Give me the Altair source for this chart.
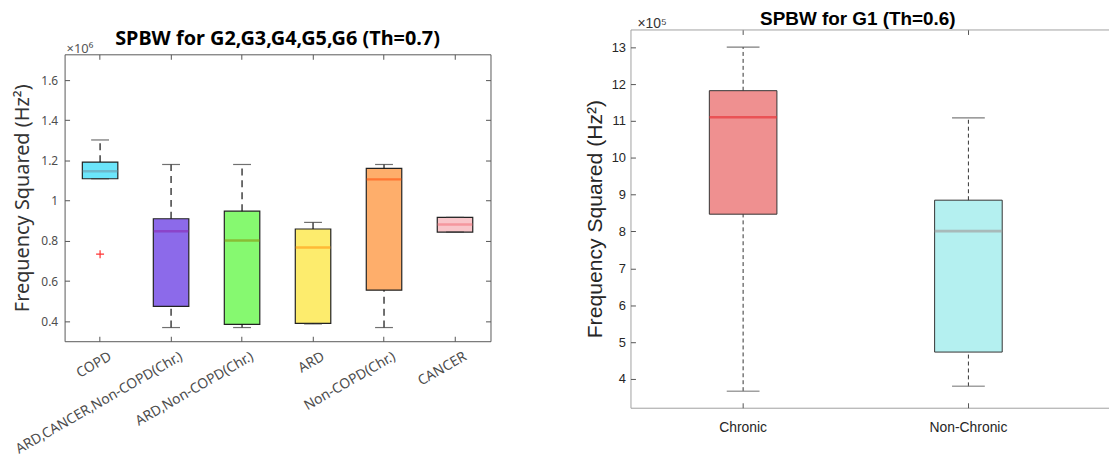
import altair as alt
import pandas as pd

# ---------------- left panel data (values in units of 1e6 Hz^2) ----------------
left_groups = ["COPD", "ARD,CANCER,Non-COPD(Chr.)", "ARD,Non-COPD(Chr.)", "ARD", "Non-COPD(Chr.)", "CANCER"]
left_lower_whisker = [1.109, 0.369, 0.369, 0.387, 0.369, 0.844]
left_q1 = [1.109, 0.474, 0.385, 0.390, 0.555, 0.844]
left_median = [1.146, 0.848, 0.802, 0.767, 1.106, 0.881]
left_q3 = [1.192, 0.910, 0.948, 0.859, 1.161, 0.917]
left_upper_whisker = [1.302, 1.180, 1.180, 0.892, 1.180, 0.917]
left_outlier_groups = ["COPD"]
left_outlier_values = [0.734]
left_fill_colors = ["#6be5fb", "#8c6aea", "#86f970", "#fdec6d", "#feae6b", "#f9c6ca"]
left_median_colors = ["#6ea5b8", "#8a35bb", "#8aa41d", "#ffa41f", "#ff5e1a", "#f4838b"]
left_y_ticks = [0.4, 0.6, 0.8, 1.0, 1.2, 1.4, 1.6]
left_y_domain = [0.301, 1.728]
left_title = ["SPBW for G2,G3,G4,G5,G6 (Th=0.7)"]
left_exponent = ["×10⁶"]

# ---------------- right panel data (values in units of 1e5 Hz^2) ----------------
right_groups = ["Chronic", "Non-Chronic"]
right_lower_whisker = [3.67, 3.80]
right_q1 = [8.47, 4.73]
right_median = [11.10, 8.01]
right_q3 = [11.82, 8.85]
right_upper_whisker = [13.00, 11.08]
right_fill_colors = ["#ef9090", "#b4f0f0"]
right_median_colors = ["#e8383c", "#a3a3a3"]
right_y_ticks = [4, 5, 6, 7, 8, 9, 10, 11, 12, 13]
right_y_domain = [3.22, 13.48]
right_title = ["SPBW for G1 (Th=0.6)"]
right_exponent = ["×10⁵"]

y_title = "Frequency Squared (Hz²)"

LW, LTOP, LH = 429, 25, 289          # left plot: width, top inset, plot height
LHT = LTOP + LH                      # total height of the left view
RW, RH = 482, 381


def tick_axis(orient, offset, color, values=None, domain=False, domain_color=None):
    kw = dict(orient=orient, offset=offset, labels=False, domain=domain, ticks=True,
              tickSize=5, tickColor=color, tickWidth=1, title=None, grid=False)
    if values is not None:
        kw["values"] = values
    if domain:
        kw["domainColor"] = domain_color
        kw["domainWidth"] = 1
    return alt.Axis(**kw)


# ---------------- left panel ----------------
ldf = pd.DataFrame({
    "group": left_groups, "lo": left_lower_whisker, "q1": left_q1, "median": left_median,
    "q3": left_q3, "hi": left_upper_whisker, "fill": left_fill_colors, "mcolor": left_median_colors,
})
lout = pd.DataFrame({"group": left_outlier_groups, "value": left_outlier_values})
lexp = pd.DataFrame({"label": left_exponent})
ltitle = pd.DataFrame({"label": left_title})

lxscale = alt.Scale(domain=left_groups, paddingInner=0, paddingOuter=0)
lyscale = alt.Scale(domain=left_y_domain, nice=False, zero=False, range=[LHT, LTOP])
LF = "Noto Sans"
ltick = "#555555"
lframe = "#5a5a5a"

l_box = alt.Chart(ldf).mark_bar(width={"band": 0.5}, stroke="#222222", strokeWidth=1.2).encode(
    x=alt.X("group:N", scale=lxscale, sort=left_groups, axis=alt.Axis(
        orient="bottom", labelAngle=330, labelAlign="right", labelBaseline="top",
        labelPadding=8, labelOffset=7, labelFont=LF, labelFontSize=14, labelColor="#4d4d4d",
        labelLimit=0, labelOverlap=False, ticks=False, tickSize=0, domain=True,
        domainColor=lframe, domainWidth=1, title=None, grid=False)),
    y=alt.Y("q1:Q", scale=lyscale, axis=alt.Axis(
        orient="left", values=left_y_ticks, format=".1~f", labelFont=LF, labelFontSize=12,
        labelColor="#4d4d4d", labelPadding=7, ticks=False, tickSize=0, domain=True,
        domainColor=lframe, domainWidth=1, grid=False,
        labelFlush=False, labelOverlap=False,
        title=y_title, titleFont=LF, titleFontSize=20, titleFontWeight="normal", titleColor="#333333",
        titleX=-32, titleY=LTOP + LH / 2, titleAngle=270, titleAlign="center", titleBaseline="bottom")),
    y2="q3:Q",
    fill=alt.Fill("fill:N", scale=None),
)
l_med = alt.Chart(ldf).mark_tick(size=35, thickness=2.5).encode(
    x=alt.X("group:N", sort=left_groups, axis=tick_axis("top", -LHT, ltick)),
    y=alt.Y("median:Q", axis=tick_axis("right", -LW, ltick, left_y_ticks)),
    color=alt.Color("mcolor:N", scale=None),
)
l_wh_hi = alt.Chart(ldf).mark_rule(color="#111111", strokeWidth=1.2, strokeDash=[7, 5]).encode(
    x=alt.X("group:N", sort=left_groups,
            axis=tick_axis("bottom", -LH, ltick, domain=True, domain_color=lframe)),
    y=alt.Y("q3:Q", axis=tick_axis("left", -LW, ltick, left_y_ticks, domain=True, domain_color=lframe)),
    y2="hi:Q",
)
l_wh_lo = alt.Chart(ldf).mark_rule(color="#111111", strokeWidth=1.2, strokeDash=[7, 5]).encode(
    x=alt.X("group:N", sort=left_groups, axis=None),
    y=alt.Y("lo:Q", axis=None),
    y2="q1:Q",
)
l_cap_hi = alt.Chart(ldf).mark_tick(size=18, thickness=1.2, color="#333333").encode(
    x=alt.X("group:N", sort=left_groups, axis=None), y=alt.Y("hi:Q", axis=None))
l_cap_lo = alt.Chart(ldf).mark_tick(size=18, thickness=1.2, color="#333333").encode(
    x=alt.X("group:N", sort=left_groups, axis=None), y=alt.Y("lo:Q", axis=None))
l_out = alt.Chart(lout).mark_point(shape="M-1,0L1,0M0,-1L0,1", size=64, color="#ff3333",
                                   strokeWidth=1.2, filled=False, opacity=1).encode(
    x=alt.X("group:N", sort=left_groups, axis=None), y=alt.Y("value:Q", axis=None))
l_exp = alt.Chart(lexp).mark_text(font=LF, fontSize=13, color="#555555", align="left",
                                  baseline="alphabetic").encode(
    x=alt.value(2), y=alt.value(LTOP - 1), text="label:N")
l_title = alt.Chart(ltitle).mark_text(font=LF, fontSize=20, fontWeight="bold", color="#000000",
                                      align="center", baseline="alphabetic").encode(
    x=alt.value(LW / 2), y=alt.value(LTOP - 9), text="label:N")

left_panel = alt.layer(l_box, l_med, l_wh_hi, l_wh_lo, l_cap_hi, l_cap_lo, l_out, l_exp, l_title).resolve_axis(
    x="independent", y="independent"
).properties(
    width=LW, height=LHT,
    view=alt.ViewBackground(stroke=None),
)

# ---------------- right panel ----------------
rdf = pd.DataFrame({
    "group": right_groups, "lo": right_lower_whisker, "q1": right_q1, "median": right_median,
    "q3": right_q3, "hi": right_upper_whisker, "fill": right_fill_colors, "mcolor": right_median_colors,
})
rexp = pd.DataFrame({"label": right_exponent})
rtitle = pd.DataFrame({"label": right_title})
RF = "Liberation Sans"
rtick = "#555555"
rframe = "#a0a0a0"

rxscale = alt.Scale(domain=right_groups, paddingInner=0, paddingOuter=0.062, align=0)
ryscale = alt.Scale(domain=right_y_domain, nice=False, zero=False)

r_box = alt.Chart(rdf).mark_bar(width={"band": 0.3}, stroke="#333333", strokeWidth=1).encode(
    x=alt.X("group:N", scale=rxscale, sort=right_groups, axis=alt.Axis(
        orient="bottom", labelAngle=0, labelFont=RF, labelFontSize=14, labelColor="#262626",
        labelPadding=13, ticks=False, tickSize=0, domain=True, domainColor=rframe, domainWidth=1,
        title=None, grid=False)),
    y=alt.Y("q1:Q", scale=ryscale, axis=alt.Axis(
        orient="left", values=right_y_ticks, format="d", labelFont=RF, labelFontSize=13,
        labelColor="#262626", labelPadding=5, ticks=False, tickSize=0, domain=True,
        domainColor=rframe, domainWidth=1, grid=False, labelFlush=False, labelOverlap=False,
        title=y_title, titleFont=RF, titleFontSize=21.3, titleFontWeight="normal", titleColor="#262626",
        titleX=-25, titleY=RH / 2, titleAngle=270, titleAlign="center", titleBaseline="bottom")),
    y2="q3:Q",
    fill=alt.Fill("fill:N", scale=None),
)
r_med = alt.Chart(rdf).mark_tick(size=68, thickness=2.7).encode(
    x=alt.X("group:N", sort=right_groups, axis=tick_axis("top", -RH, rtick)),
    y=alt.Y("median:Q", axis=tick_axis("right", -RW, rtick, right_y_ticks)),
    color=alt.Color("mcolor:N", scale=None),
)
r_wh_hi = alt.Chart(rdf).mark_rule(color="#333333", strokeWidth=1, strokeDash=[4, 3]).encode(
    x=alt.X("group:N", sort=right_groups,
            axis=tick_axis("bottom", -RH, rtick, domain=True, domain_color=rframe)),
    y=alt.Y("q3:Q", axis=None),
    y2="hi:Q",
)
r_wh_lo = alt.Chart(rdf).mark_rule(color="#333333", strokeWidth=1, strokeDash=[4, 3]).encode(
    x=alt.X("group:N", sort=right_groups, axis=None),
    y=alt.Y("lo:Q", axis=None),
    y2="q1:Q",
)
r_cap_hi = alt.Chart(rdf).mark_tick(size=33, thickness=1.2, color="#444444").encode(
    x=alt.X("group:N", sort=right_groups, axis=None), y=alt.Y("hi:Q", axis=None))
r_cap_lo = alt.Chart(rdf).mark_tick(size=33, thickness=1.5, color="#777777").encode(
    x=alt.X("group:N", sort=right_groups, axis=None), y=alt.Y("lo:Q", axis=None))
r_exp = alt.Chart(rexp).mark_text(font=RF, fontSize=14, color="#333333", align="left",
                                  baseline="alphabetic").encode(
    x=alt.value(7), y=alt.value(-2), text="label:N")
r_title = alt.Chart(rtitle).mark_text(font=RF, fontSize=19, fontWeight="bold", color="#000000",
                                      align="center", baseline="alphabetic").encode(
    x=alt.value(RW / 2 - 12), y=alt.value(-4.5), text="label:N")

right_panel = alt.layer(r_box, r_med, r_wh_hi, r_wh_lo, r_cap_hi, r_cap_lo, r_exp, r_title).resolve_axis(
    x="independent", y="independent"
).properties(
    width=RW, height=RH,
    view=alt.ViewBackground(stroke=None),
)

chart = alt.hconcat(left_panel, right_panel, spacing=141, bounds="flush").properties(
    autosize=alt.AutoSizeParams(type="none"),
    padding={"left": 57, "top": 20, "right": 1052, "bottom": 432},
).configure(background="white")

chart.save("out.html", embed_options={"renderer": "svg", "actions": False})
